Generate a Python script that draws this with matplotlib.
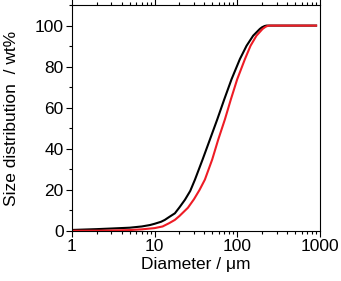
import numpy as np
import matplotlib
matplotlib.use("Agg")
import matplotlib.pyplot as plt
from matplotlib.ticker import LogLocator, MultipleLocator, NullFormatter

plt.rcParams['font.family'] = ['Liberation Sans', 'DejaVu Sans']

# cumulative size distribution (diameter in um, wt%)
d_black = [1, 2, 3, 5, 7, 8.8, 10, 12, 13.3, 15, 17.6, 20, 23.3, 27, 30.8,
           38.1, 46.7, 57.3, 69.7, 85.4, 107.7, 129.8, 156, 188, 200, 215,
           226, 900]
w_black = [0.5, 0.9, 1.2, 1.6, 2.2, 2.9, 3.5, 4.5, 5.4, 6.8, 8.6, 11.5,
           15.2, 19.5, 25.0, 34.8, 44.5, 54.3, 64.1, 73.9, 83.7, 90.2, 95.1,
           98.4, 99.2, 99.8, 100, 100]

d_red = [1, 2, 3, 5, 7, 10, 12.5, 15, 17.6, 20, 25.3, 30, 35, 40.6, 49.8,
         58.9, 70.9, 83.8, 100, 124, 145, 171, 203, 220, 235, 248, 900]
w_red = [0.1, 0.15, 0.25, 0.45, 0.8, 1.4, 2.2, 3.8, 5.4, 7.3, 11.3, 15.5,
         20.0, 25.0, 34.8, 44.5, 54.3, 64.1, 73.9, 83.7, 90.2, 95.1, 98.4,
         99.4, 99.9, 100, 100]

fig = plt.figure(figsize=(3.41, 2.81), dpi=100)
ax = fig.add_axes([0.211, 0.178, 0.727, 0.804])

ax.plot(d_black, w_black, color='black', lw=1.5, solid_joinstyle='round')
ax.plot(d_red, w_red, color='#ee1c25', lw=1.5, solid_joinstyle='round')

ax.set_xscale('log')
ax.set_xlim(1, 1000)
ax.set_ylim(0, 110)
ax.set_xticks([1, 10, 100, 1000])
ax.set_xticklabels(['1', '10', '100', '1000'])
ax.xaxis.set_minor_locator(LogLocator(base=10, subs=np.arange(2, 10)))
ax.xaxis.set_minor_formatter(NullFormatter())
ax.yaxis.set_major_locator(MultipleLocator(20))
ax.yaxis.set_minor_locator(MultipleLocator(10))

ax.tick_params(which='both', direction='out', top=True, right=False,
               labelsize=12.5, width=0.8, pad=2)
ax.tick_params(which='major', length=4)
ax.tick_params(which='minor', length=2.5)
for s in ax.spines.values():
    s.set_linewidth(0.8)

ax.set_xlabel('Diameter / \u03bcm', fontsize=12.5, labelpad=2)
ax.set_ylabel('Size distribution  / wt%', fontsize=12.5, labelpad=11)

fig.savefig('out.png', dpi=100)
